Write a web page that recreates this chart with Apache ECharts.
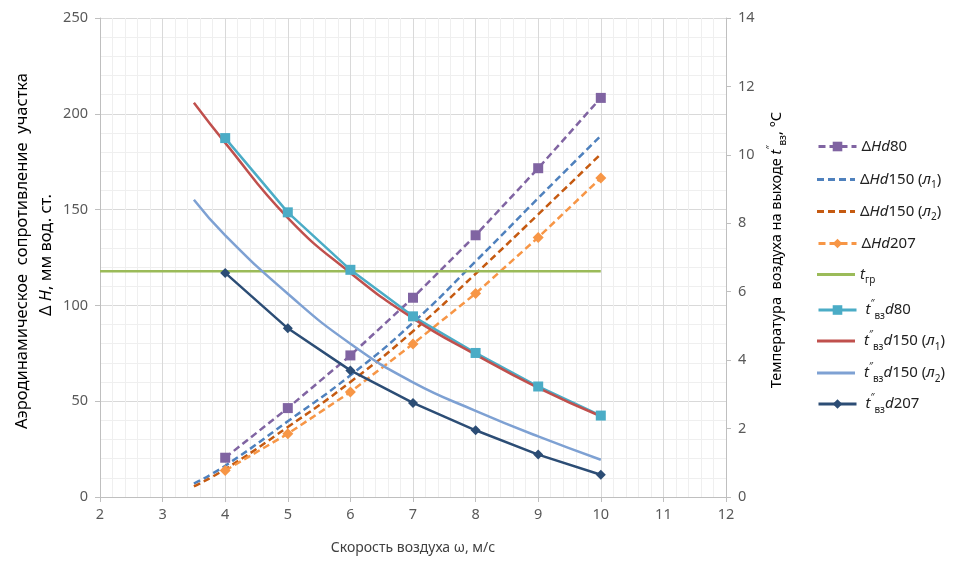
<!DOCTYPE html>
<html>
<head>
<meta charset="utf-8">
<script src="https://cdn.jsdelivr.net/npm/echarts@6/dist/echarts.min.js"></script>
<style>
  html, body { margin: 0; padding: 0; background: #fff; }
  #chart { width: 957px; height: 561px; }
</style>
</head>
<body>
<div id="chart"></div>
<script>
// скорость воздуха, м/с
var xMarked = [4, 5, 6, 7, 8, 9, 10];
var xSmooth = [3.5, 4, 5, 6, 7, 8, 9, 10];
var xGr = [2, 10];

// сопротивление, мм вод. ст. (левая ось)
var dH80 = [20.5, 46.4, 73.9, 104, 136.6, 171.6, 208.3];
var dH150L1 = [7, 16.3, 39.5, 63.5, 91, 123, 156, 188.5];
var dH150L2 = [5.5, 14.5, 36.5, 60, 86.5, 116.5, 147.5, 179];
var dH207 = [13.8, 33, 54.8, 79.9, 106.2, 135.5, 166.5];

// температура, °C (правая ось)
var tGr = [6.6, 6.6];
var t80 = [10.49, 8.32, 6.64, 5.28, 4.21, 3.23, 2.38];
var t150L1 = [11.52, 10.35, 8.16, 6.55, 5.22, 4.16, 3.19, 2.36];
var t150L2 = [8.69, 7.65, 5.94, 4.48, 3.35, 2.52, 1.77, 1.09];
var t207 = [6.55, 4.93, 3.70, 2.75, 1.95, 1.24, 0.65];

var names = ['dH80', 'dH150L1', 'dH150L2', 'dH207', 'tGr', 't80', 't150L1', 't150L2', 't207'];
var labels = {
    dH80: '{n|Δ}{i|Hd}{n|80}',
    dH150L1: '{n|Δ}{i|Hd}{n|150 (}{i|л}{sub|1}{n|)}',
    dH150L2: '{n|Δ}{i|Hd}{n|150 (}{i|л}{sub|2}{n|)}',
    dH207: '{n|Δ}{i|Hd}{n|207}',
    tGr: '{i|t}{sub|гр}',
    t80: '{i| t}{sup|″}{sub|вз}{i|d}{n|80}',
    t150L1: '{i| t}{sup|″}{sub|вз}{i|d}{n|150 (}{i|л}{sub|1}{n|)}',
    t150L2: '{i| t}{sup|″}{sub|вз}{i|d}{n|150 (}{i|л}{sub|2}{n|)}',
    t207: '{i| t}{sup|″}{sub|вз}{i|d}{n|207}'
};
var legendTops = [145, 178, 210, 242, 273, 305, 336, 368, 399];

// значки легенды для линий без маркеров
var dashIcon = 'path://M0,0h7v3h-7zM11,0h7v3h-7zM22,0h7v3h-7zM33,0h5v3h-5z';
var icons = {dH150L1: dashIcon, dH150L2: dashIcon, tGr: 'rect', t150L1: 'rect', t150L2: 'rect'};

var font = 'Noto Sans';
var rich = {
    n: {fontSize: 15, fontFamily: font, color: '#222', lineHeight: 22},
    i: {fontSize: 15, fontFamily: font, fontStyle: 'italic', color: '#222', lineHeight: 22},
    sub: {fontSize: 10, fontFamily: font, color: '#222', lineHeight: 22, verticalAlign: 'bottom'},
    sup: {fontSize: 10, fontFamily: font, color: '#222', lineHeight: 22, verticalAlign: 'top'}
};
function titleStyle(size) {
    return {
        n: {fontSize: size, fontFamily: font, color: '#595959', lineHeight: 22},
        i: {fontSize: size, fontFamily: font, fontStyle: 'italic', color: '#595959', lineHeight: 22},
        sub: {fontSize: 10, fontFamily: font, color: '#595959', lineHeight: 22, verticalAlign: 'bottom'},
        sup: {fontSize: 10, fontFamily: font, color: '#595959', lineHeight: 22, verticalAlign: 'top'}
    };
}

function pairs(xs, ys) {
    return ys.map(function (v, k) { return [xs[k], v]; });
}

var dash = [7, 4];
var series = [
    {name: 'dH80', type: 'line', data: pairs(xMarked, dH80), symbol: 'rect', symbolSize: 10,
        lineStyle: {type: dash, width: 2.5}, color: '#8064a2'},
    {name: 'dH150L1', type: 'line', data: pairs(xSmooth, dH150L1), symbol: 'none', smooth: true,
        lineStyle: {type: dash, width: 2.5}, color: '#4f81bd'},
    {name: 'dH150L2', type: 'line', data: pairs(xSmooth, dH150L2), symbol: 'none', smooth: true,
        lineStyle: {type: dash, width: 2.5}, color: '#c55a11'},
    {name: 'dH207', type: 'line', data: pairs(xMarked, dH207), symbol: 'diamond', symbolSize: 11,
        lineStyle: {type: dash, width: 2.5}, color: '#f79646'},
    {name: 'tGr', type: 'line', yAxisIndex: 1, data: pairs(xGr, tGr), symbol: 'none',
        lineStyle: {width: 2.5}, color: '#9bbb59'},
    {name: 't80', type: 'line', yAxisIndex: 1, data: pairs(xMarked, t80), symbol: 'rect', symbolSize: 10,
        lineStyle: {width: 2.5}, color: '#4bacc6'},
    {name: 't150L1', type: 'line', yAxisIndex: 1, data: pairs(xSmooth, t150L1), symbol: 'none', smooth: true,
        lineStyle: {width: 2.5}, color: '#c0504d'},
    {name: 't150L2', type: 'line', yAxisIndex: 1, data: pairs(xSmooth, t150L2), symbol: 'none', smooth: true,
        lineStyle: {width: 2.5}, color: '#7ea1d3'},
    {name: 't207', type: 'line', yAxisIndex: 1, data: pairs(xMarked, t207), symbol: 'diamond', symbolSize: 10,
        lineStyle: {width: 2.5}, color: '#2c4d75'}
];
series.forEach(function (s) {
    s.animation = false;
    s.z = s.yAxisIndex ? 3 : 2;
});

var legends = names.map(function (nm, k) {
    var lg = {
        data: [nm],
        left: 812,
        top: legendTops[k] - 11,
        itemWidth: 38,
        itemHeight: 12,
        lineStyle: {width: 3},
        formatter: function (name) { return labels[name]; },
        textStyle: {rich: rich}
    };
    if (icons[nm]) {
        lg.icon = icons[nm];
        lg.itemHeight = 3;
    }
    return lg;
});

var axisText = {color: '#595959', fontSize: 14.5, fontFamily: font};

var chart = echarts.init(document.getElementById('chart'));
chart.setOption({
    animation: false,
    grid: {left: 100, right: 231, top: 18, bottom: 64},
    legend: legends,
    xAxis: {
        type: 'value', min: 2, max: 12, interval: 1,
        name: 'Скорость воздуха ω, м/с', nameLocation: 'middle', nameGap: 44,
        nameTextStyle: {color: '#404040', fontSize: 14, fontFamily: font},
        axisLine: {lineStyle: {color: '#bfbfbf'}},
        axisTick: {show: true, length: 5, lineStyle: {color: '#bfbfbf'}},
        axisLabel: Object.assign({margin: 10}, axisText),
        splitLine: {show: true, lineStyle: {color: '#d9d9d9'}},
        minorTick: {show: false, splitNumber: 5},
        minorSplitLine: {show: true, lineStyle: {color: '#efefef'}}
    },
    yAxis: [{
        type: 'value', min: 0, max: 250, interval: 50,
        axisLine: {show: true, lineStyle: {color: '#bfbfbf'}},
        axisTick: {show: true, length: 5, lineStyle: {color: '#bfbfbf'}},
        axisLabel: Object.assign({margin: 12}, axisText),
        splitLine: {show: true, lineStyle: {color: '#d9d9d9'}},
        minorTick: {show: false, splitNumber: 5},
        minorSplitLine: {show: true, lineStyle: {color: '#efefef'}}
    }, {
        type: 'value', min: 0, max: 14, interval: 2, position: 'right',
        axisLine: {show: true, lineStyle: {color: '#bfbfbf'}},
        axisTick: {show: true, length: 5, lineStyle: {color: '#bfbfbf'}},
        axisLabel: Object.assign({margin: 12}, axisText),
        splitLine: {show: false}
    }],
    graphic: [{
        type: 'text', x: 22, y: 251, rotation: Math.PI / 2, silent: true,
        style: {
            text: '{n|Аэродинамическое  сопротивление  участка}',
            rich: titleStyle(16.5), align: 'center', verticalAlign: 'middle'
        }
    }, {
        type: 'text', x: 46, y: 255, rotation: Math.PI / 2, silent: true,
        style: {
            text: '{n|Δ }{i|H}{n|, мм вод. ст.}',
            rich: titleStyle(16.5), align: 'center', verticalAlign: 'middle'
        }
    }, {
        type: 'text', x: 777, y: 250, rotation: Math.PI / 2, silent: true,
        style: {
            text: '{n|Температура  воздуха на выходе }{i|t}{sup|″}{sub|вз}{n|, °С}',
            rich: titleStyle(14.5), align: 'center', verticalAlign: 'middle'
        }
    }],
    series: series
});
</script>
</body>
</html>
